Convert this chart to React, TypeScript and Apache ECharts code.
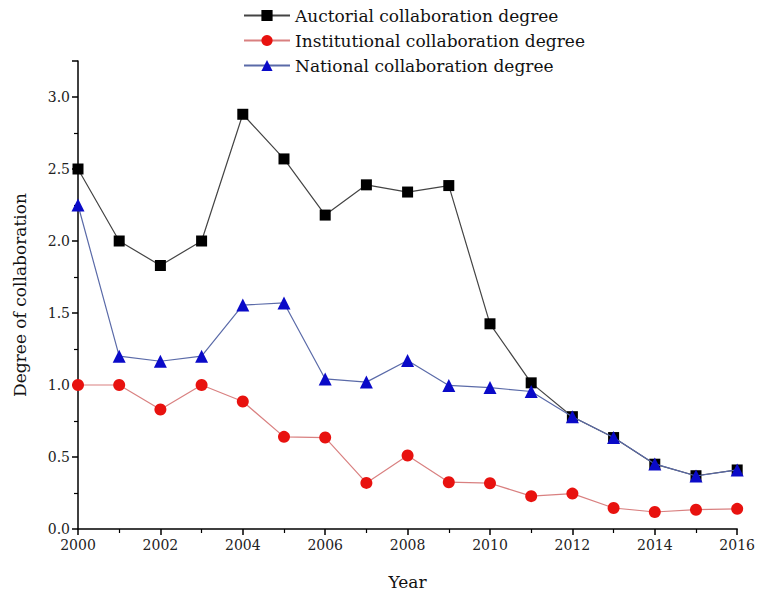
import React, { useEffect, useRef } from "react";
import * as echarts from "echarts";

const years = [2000, 2001, 2002, 2003, 2004, 2005, 2006, 2007, 2008, 2009, 2010, 2011, 2012, 2013, 2014, 2015, 2016];
const auctorial = [2.5, 2.0, 1.83, 2.0, 2.88, 2.57, 2.18, 2.39, 2.34, 2.385, 1.425, 1.015, 0.78, 0.635, 0.45, 0.37, 0.41];
const institutional = [1.0, 1.0, 0.83, 1.0, 0.885, 0.64, 0.635, 0.32, 0.51, 0.325, 0.318, 0.228, 0.246, 0.146, 0.118, 0.134, 0.14];
const national = [2.25, 1.2, 1.165, 1.2, 1.555, 1.57, 1.042, 1.02, 1.17, 0.997, 0.982, 0.955, 0.78, 0.635, 0.452, 0.368, 0.41];

const seriesNames = ["Auctorial collaboration degree", "Institutional collaboration degree", "National collaboration degree"];

const FONT = "DejaVu Serif";

export default function App() {
  const ref = useRef<HTMLDivElement>(null);
  useEffect(() => {
    if (!ref.current) return;
    const chart = echarts.init(ref.current, undefined, { renderer: "svg" });
    const pair = (arr: number[]) => years.map((y, i) => [y, arr[i]]);
    chart.setOption({
      animation: false,
      backgroundColor: "#fff",
      textStyle: { fontFamily: FONT, color: "#000" },
      legend: {
        orient: "vertical",
        left: 238,
        top: 2,
        itemWidth: 46,
        itemHeight: 14,
        itemGap: 8,
        textStyle: { fontFamily: FONT, fontSize: 17, color: "#111" },
        data: seriesNames,
      },
      grid: { left: 78, right: 20, top: 61, bottom: 67 },
      xAxis: {
        type: "value",
        min: 2000,
        max: 2016,
        interval: 2,
        name: "Year",
        nameLocation: "middle",
        nameGap: 44,
        nameTextStyle: { fontFamily: FONT, fontSize: 17, color: "#111" },
        axisLine: { show: true, lineStyle: { color: "#000", width: 1.5 } },
        axisTick: { show: true, inside: false, length: 6, lineStyle: { color: "#000", width: 1.5 } },
        minorTick: { show: true, splitNumber: 2, length: 4, lineStyle: { color: "#000", width: 1.2 } },
        axisLabel: { fontFamily: FONT, fontSize: 14, color: "#222", margin: 9, formatter: (v: number) => String(v) },
        splitLine: { show: false },
      },
      yAxis: {
        type: "value",
        min: 0,
        max: 3.25,
        interval: 0.5,
        name: "Degree of collaboration",
        nameLocation: "middle",
        nameGap: 50,
        nameTextStyle: { fontFamily: FONT, fontSize: 17, color: "#111" },
        axisLine: { show: true, lineStyle: { color: "#000", width: 1.5 } },
        axisTick: { show: true, inside: false, length: 6, lineStyle: { color: "#000", width: 1.5 } },
        minorTick: { show: true, splitNumber: 2, length: 4, lineStyle: { color: "#000", width: 1.2 } },
        axisLabel: {
          fontFamily: FONT,
          fontSize: 14,
          color: "#222",
          margin: 8,
          showMaxLabel: false,
          formatter: (v: number) => (v > 3.1 ? "" : v.toFixed(1)),
        },
        splitLine: { show: false },
      },
      series: [
        {
          name: seriesNames[0],
          type: "line",
          data: pair(auctorial),
          symbol: "rect",
          symbolSize: 11,
          itemStyle: { color: "#000" },
          lineStyle: { color: "#444", width: 1.2 },
          z: 3,
        },
        {
          name: seriesNames[1],
          type: "line",
          data: pair(institutional),
          symbol: "circle",
          symbolSize: 12,
          itemStyle: { color: "#e8120f" },
          lineStyle: { color: "#d98080", width: 1.2 },
          z: 2,
        },
        {
          name: seriesNames[2],
          type: "line",
          data: pair(national),
          symbol: "triangle",
          symbolSize: 13,
          itemStyle: { color: "#0a0ac8" },
          lineStyle: { color: "#5a6aa8", width: 1.2 },
          z: 4,
        },
      ],
    });
    return () => chart.dispose();
  }, []);
  return <div ref={ref} style={{ position: "fixed", left: 0, top: 0, width: 758, height: 596 }} />;
}
